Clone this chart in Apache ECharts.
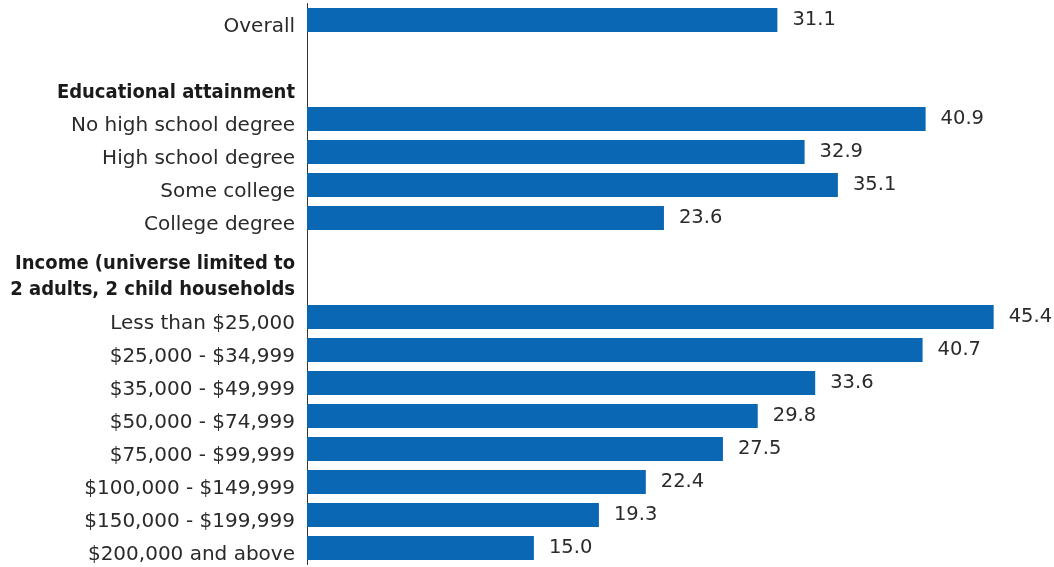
<!DOCTYPE html>
<html>
<head>
<meta charset="utf-8">
<script src="https://cdn.jsdelivr.net/npm/echarts@6/dist/echarts.min.js"></script>
<style>
html,body{margin:0;padding:0;background:#fff;}
#c{width:1054px;height:567px;}
</style>
</head>
<body>
<div id="c"></div>
<script>
// Category rows, top to bottom ('' = spacer row, header rows marked separately)
const categories = [
  'Overall',
  '',
  'Educational attainment',
  'No high school degree',
  'High school degree',
  'Some college',
  'College degree',
  '',
  'Income (universe limited to\n2 adults, 2 child households',
  'Less than $25,000',
  '$25,000 - $34,999',
  '$35,000 - $49,999',
  '$50,000 - $74,999',
  '$75,000 - $99,999',
  '$100,000 - $149,999',
  '$150,000 - $199,999',
  '$200,000 and above'
];
const headers = ['Educational attainment', 'Income (universe limited to\n2 adults, 2 child households'];
const values = [31.1, null, null, 40.9, 32.9, 35.1, 23.6, null, null, 45.4, 40.7, 33.6, 29.8, 27.5, 22.4, 19.3, 15.0];

const FONT = '"DejaVu Sans", sans-serif';
const HFONT = '"DejaVu Sans Condensed", "DejaVu Sans", sans-serif';
const chart = echarts.init(document.getElementById('c'));
chart.setOption({
  animation: false,
  grid: {left: 307, right: 21, top: 3.5, bottom: 2.5, containLabel: false},
  xAxis: {type: 'value', min: 0, max: 48, show: false},
  yAxis: {
    type: 'category',
    inverse: true,
    data: categories,
    axisLine: {show: true, lineStyle: {color: '#333', width: 1}},
    axisTick: {show: false},
    splitLine: {show: false},
    axisLabel: {
      margin: 12,
      interval: 0,
      formatter: function (v) {
        if (v === '') return '';
        if (v === headers[1]) {
          const parts = v.split('\n');
          return '{h|' + parts[0] + '}\n{h|' + parts[1] + '}\n{sp| }';
        }
        if (v === headers[0]) return '{b|' + v + '}';
        return '{n|' + v + '}';
      },
      rich: {
        n: {fontFamily: FONT, fontSize: 20, color: '#2a2a2a', padding: [14, 0, 0, 0]},
        b: {fontFamily: HFONT, fontSize: 20, color: '#1a1a1a', fontWeight: 'bold', padding: [14, 0, 0, 0]},
        h: {fontFamily: HFONT, fontSize: 20, color: '#1a1a1a', fontWeight: 'bold', lineHeight: 26, align: 'right'},
        sp: {fontSize: 2, lineHeight: 14}
      }
    }
  },
  series: [{
    type: 'bar',
    data: values,
    barWidth: 24,
    itemStyle: {color: '#0967b3'},
    label: {
      show: true,
      position: 'right',
      distance: 15,
      fontFamily: FONT,
      fontSize: 19.5,
      color: '#2a2a2a',
      padding: [3, 0, 0, 0],
      formatter: function (p) { return p.value == null ? '' : p.value.toFixed(1); }
    }
  }]
});
</script>
</body>
</html>
